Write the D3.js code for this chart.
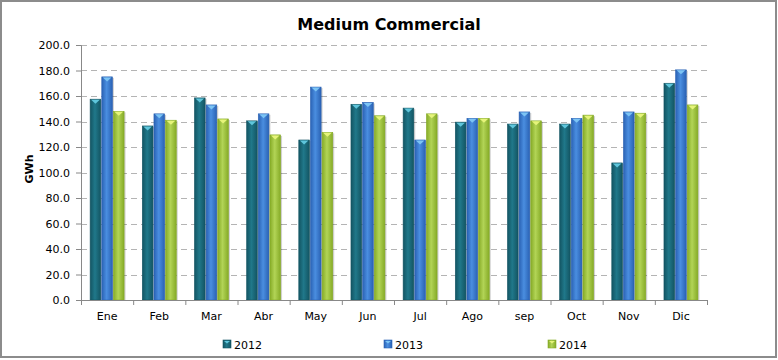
<!DOCTYPE html>
<html lang="en">
<meta charset="utf-8">
<style>
    html, body {
        margin: 0;
        padding: 0;
        background: #fff;
    }
    svg text {
        font-family: "DejaVu Sans", Verdana, sans-serif;
    }
</style>
<body>
<svg id="svg" width="778" height="360"></svg>
<script src="https://cdn.jsdelivr.net/npm/d3@7"></script>
<script>
    // data
    var months = ["Ene", "Feb", "Mar", "Abr", "May", "Jun", "Jul", "Ago", "sep", "Oct", "Nov", "Dic"];
    var years = ["2012", "2013", "2014"];
    var v2012 = [157.5, 136.5, 158.5, 140.5, 125.5, 153.5, 150.5, 139.5, 138, 138, 107.5, 170];
    var v2013 = [175, 146, 153, 146, 167, 155, 125.5, 142.5, 147.5, 142.5, 147.5, 180.5];
    var v2014 = [148, 141, 142, 129.5, 131.5, 144.5, 146, 142.5, 140.5, 145, 146.5, 153];
    var yTicks = [0, 20, 40, 60, 80, 100, 120, 140, 160, 180, 200];

    var series = [v2012, v2013, v2014];
    // [dark edge, light middle, top cap]
    var colors = [
        ["#135563", "#20788a", "#5fc6dc"],
        ["#2a62b4", "#4a8ee0", "#7cc4f4"],
        ["#86ab27", "#b2d456", "#e6f47a"]
    ];

    var svg = d3.select("svg"),
        margin = {top: 45, right: 71, bottom: 60, left: 81},
        width = 778 - margin.left - margin.right,
        height = 300 - margin.top;

    // outer frame
    svg.append("rect")
        .attr("x", 1).attr("y", 1)
        .attr("width", 775).attr("height", 356)
        .attr("fill", "#fff")
        .attr("stroke", "#8c8c8c")
        .attr("stroke-width", 2);

    var defs = svg.append("defs");
    colors.forEach(function(c, i) {
        var gr = defs.append("linearGradient")
            .attr("id", "grad" + i)
            .attr("x1", "0%").attr("x2", "100%")
            .attr("y1", "0%").attr("y2", "0%");
        gr.append("stop").attr("offset", "0%").attr("stop-color", c[0]);
        gr.append("stop").attr("offset", "45%").attr("stop-color", c[1]);
        gr.append("stop").attr("offset", "100%").attr("stop-color", c[0]);
    });

    var g = svg.append("g").attr("transform", "translate(" + margin.left + "," + margin.top + ")");

    var x = d3.scaleBand()
        .domain(months)
        .range([0, width]);

    var xs = d3.scaleBand()
        .domain(d3.range(years.length))
        .range([x.bandwidth() * 0.175, x.bandwidth() * 0.845]);

    var y = d3.scaleLinear()
        .domain([0, 200])
        .range([height, 0]);

    // gridlines
    g.append("g")
        .selectAll("line").data(yTicks.filter(d => d > 0)).enter().append("line")
        .attr("x1", 0).attr("x2", width)
        .attr("y1", d => Math.round(y(d)) + 0.5)
        .attr("y2", d => Math.round(y(d)) + 0.5)
        .attr("stroke", "#b4b4b4")
        .attr("stroke-dasharray", "6,4");

    // bars
    var bw = xs.bandwidth() - 1;
    series.forEach(function(vals, si) {
        var sg = g.append("g");
        var bars = sg.selectAll("g").data(vals).enter().append("g")
            .attr("transform", (d, i) => "translate(" + (x(months[i]) + xs(si)) + ",0)");

        // soft shadow
        bars.append("rect")
            .attr("x", 1.5)
            .attr("y", d => y(d) + 1)
            .attr("width", bw)
            .attr("height", d => height - y(d) - 1)
            .attr("fill", "#000")
            .attr("fill-opacity", 0.18);

        bars.append("rect")
            .attr("x", 0)
            .attr("y", d => y(d))
            .attr("width", bw)
            .attr("height", d => height - y(d))
            .attr("fill", "url(#grad" + si + ")")
            .attr("stroke", colors[si][0])
            .attr("stroke-width", 0.6);

        bars.append("path")
            .attr("d", d => "M1," + (y(d) + 0.5) + "L" + (bw - 1) + "," + (y(d) + 0.5) +
                "L" + (bw / 2) + "," + (y(d) + 4.5) + "Z")
            .attr("fill", colors[si][2]);
    });

    // y axis
    var yAxis = d3.axisLeft(y)
        .tickValues(yTicks)
        .tickSize(5)
        .tickPadding(6)
        .tickFormat(d3.format(".1f"));

    var ya = g.append("g").call(yAxis);
    ya.selectAll("path, line").attr("stroke", "#888");
    ya.selectAll("text").attr("font-size", 11).attr("fill", "#000")
        .style("font-family", "DejaVu Sans, Verdana, sans-serif");

    // x axis
    var xa = g.append("g")
        .attr("transform", "translate(0," + height + ")")
        .call(d3.axisBottom(x).tickSize(0).tickPadding(12));
    xa.select(".domain").attr("stroke", "#888");
    xa.selectAll("text").attr("font-size", 11).attr("fill", "#000")
        .style("font-family", "DejaVu Sans, Verdana, sans-serif");

    xa.selectAll(".sep").data(d3.range(months.length + 1)).enter().append("line")
        .attr("class", "sep")
        .attr("x1", i => i * x.step() + 0.5)
        .attr("x2", i => i * x.step() + 0.5)
        .attr("y1", 0).attr("y2", 5)
        .attr("stroke", "#888");

    // title
    svg.append("text")
        .attr("x", 389).attr("y", 30)
        .attr("text-anchor", "middle")
        .attr("font-size", 16)
        .attr("font-weight", "bold")
        .text("Medium Commercial");

    // y label
    svg.append("text")
        .attr("transform", "translate(33,169) rotate(-90)")
        .attr("text-anchor", "middle")
        .attr("font-size", 11)
        .attr("font-weight", "bold")
        .text("GWh");

    // legend
    var legendX = [223, 384, 548];
    var lg = svg.append("g").selectAll("g").data(years).enter().append("g")
        .attr("transform", (d, i) => "translate(" + legendX[i] + ",340)");
    lg.append("rect")
        .attr("width", 8).attr("height", 8)
        .attr("fill", (d, i) => "url(#grad" + i + ")")
        .attr("stroke", (d, i) => colors[i][0])
        .attr("stroke-width", 0.6);
    lg.append("path")
        .attr("d", "M1,1L7,1L4,3.5Z")
        .attr("fill", (d, i) => colors[i][2]);
    lg.append("text")
        .attr("x", 11).attr("y", 8.5)
        .attr("font-size", 11)
        .text(d => d);
</script>
</body>
</html>
